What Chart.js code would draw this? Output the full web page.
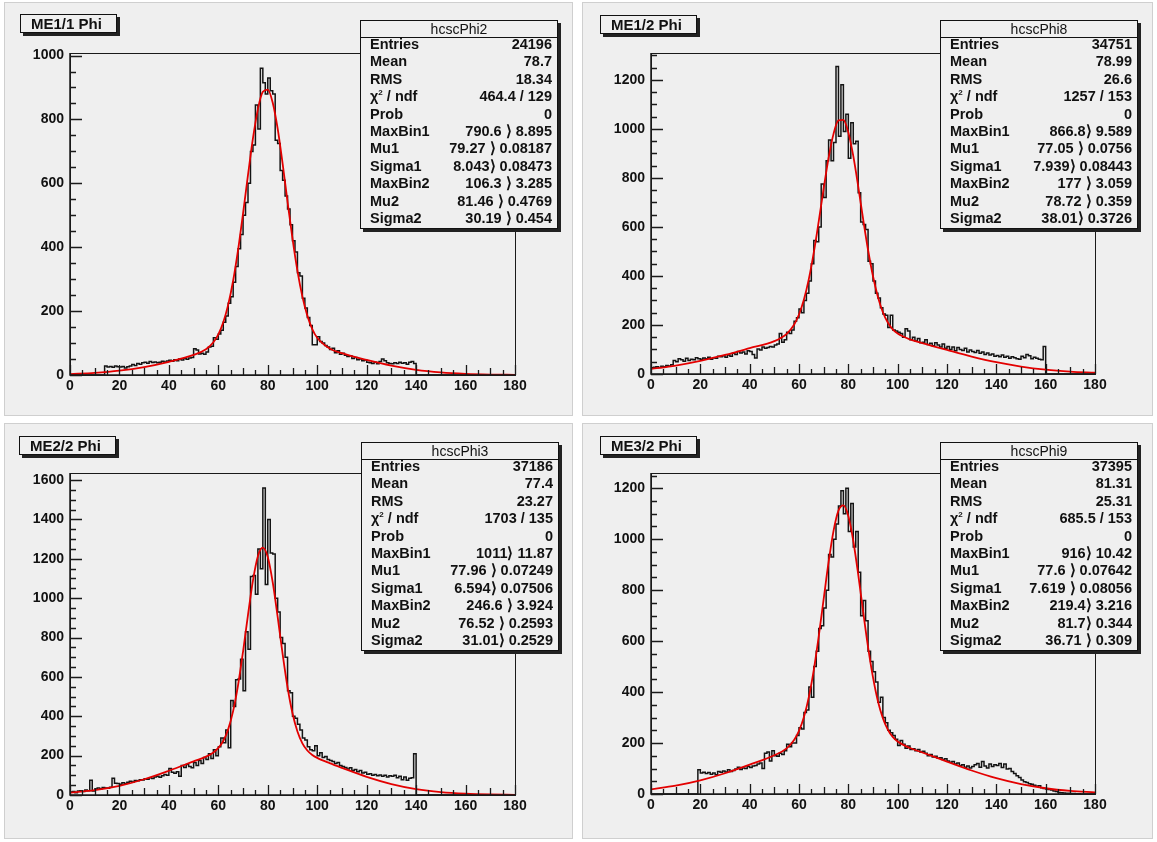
<!DOCTYPE html>
<html>
<head>
<meta charset="utf-8">
<title>CSC phi distributions</title>
<script src="https://cdn.jsdelivr.net/npm/chart.js@4.4.1/dist/chart.umd.min.js"></script>
<style>
  body { margin: 0; width: 1157px; height: 842px; background: #ffffff; position: relative; overflow: hidden;
         font-family: "Liberation Sans", Arial, sans-serif; color: #111; }
  .pad { position: absolute; background: #efefef; box-shadow: 0 0 0 1px #cfcfcf; }
  .pad canvas { position: absolute; left: 0; top: 0; }
  .title { position: absolute; width: 97px; height: 19px; box-sizing: border-box; background: #efefef;
           border: 1px solid #111; box-shadow: 3px 3px 0 #222; font-weight: bold; font-size: 15px;
           line-height: 17px; padding-left: 10px; white-space: nowrap; }
  .stats { position: absolute; width: 198px; height: 209px; box-sizing: border-box; background: #efefef;
           border: 1px solid #111; box-shadow: 3px 3px 0 #222; }
  .stats .head { height: 16px; line-height: 16px; text-align: center; font-size: 14px; border-bottom: 1px solid #111; }
  .stats .rows { margin-top: -2px; }
  .stats .row { display: flex; justify-content: space-between; height: 17.4px; line-height: 17.4px;
                font-size: 14.5px; font-weight: bold; padding: 0 5px 0 9px; white-space: nowrap; }
  .stats sup { font-size: 8px; line-height: 0; }
</style>
</head>
<body>
<script>
// bins of 1 unit from 0 to 180
const binLow = 0;
const binWidth = 1;

// ME1/1 histogram contents
const histME11 = [
  0,0,0,0,0,0,0,0,0,0,
  0,0,0,0,28,25,27,24,28,26,
  25,27,22,26,28,33,30,36,34,38,
  40,37,42,39,41,38,40,43,41,44,
  46,43,48,45,50,47,52,49,53,55,
  82,78,66,68,65,72,88,90,117,112,
  128,140,165,185,225,245,290,340,395,440,
  500,540,600,700,720,845,770,960,915,880,
  930,890,880,735,725,640,610,560,520,470,
  420,385,320,310,240,210,180,155,95,95,
  120,105,100,92,88,80,84,70,76,65,
  68,62,58,60,52,55,48,50,45,47,
  40,38,36,40,35,42,50,45,38,36,
  35,38,36,40,37,38,34,40,42,36,
  0,0,0,0,0,0,0,0,0,0,
  0,0,0,0,0,0,0,0,0,0,
  0,0,0,0,0,0,0,0,0,0,
  0,0,0,0,0,0,0,0,0,0
];

// ME1/2 histogram contents
const histME12 = [
  25,28,30,27,32,30,35,33,38,55,
  50,62,58,52,64,55,60,58,66,62,
  60,65,62,68,60,66,64,72,70,74,
  68,78,72,85,80,92,86,90,82,95,
  92,80,65,102,98,110,105,108,112,110,
  118,122,165,130,140,170,165,180,215,230,
  265,250,300,330,380,450,545,540,600,775,
  720,870,955,870,945,1255,970,1180,990,1060,
  880,1025,940,950,740,620,610,590,460,450,
  380,330,310,270,245,240,190,240,180,175,
  170,165,150,185,175,140,150,135,145,128,
  130,140,120,125,115,128,118,110,122,105,
  112,100,110,95,108,100,96,105,90,98,
  92,88,96,85,90,80,86,78,82,72,
  75,70,78,68,72,64,70,66,62,60,
  72,66,80,74,62,68,64,60,58,112,
  0,0,0,0,0,0,0,0,0,0,
  0,0,0,0,0,0,0,0,0,0
];

// ME2/2 histogram contents
const histME22 = [
  15,18,12,20,22,18,25,22,75,20,
  30,35,32,38,36,34,40,85,60,58,
  55,62,58,65,70,66,74,72,78,76,
  82,80,88,84,92,95,90,98,104,100,
  135,115,110,118,95,150,140,155,145,138,
  165,150,175,160,190,180,210,185,230,200,
  245,290,265,330,240,480,450,585,590,690,
  530,830,740,1110,1115,1020,1250,1150,1560,1070,
  1400,1230,1225,1000,930,800,770,700,530,520,
  400,390,360,330,290,280,245,230,225,250,
  200,215,190,195,180,175,170,160,165,150,
  145,140,132,138,125,130,118,125,112,115,
  105,108,100,104,98,102,95,100,92,98,
  95,100,88,95,78,92,75,85,88,210,
  0,0,0,0,0,0,0,0,0,0,
  0,0,0,0,0,0,0,0,0,0,
  0,0,0,0,0,0,0,0,0,0,
  0,0,0,0,0,0,0,0,0,0
];

// ME3/2 histogram contents
const histME32 = [
  0,0,0,0,0,0,0,0,0,0,
  0,0,0,0,0,0,0,0,0,95,
  82,85,80,84,78,82,76,88,85,90,
  86,95,88,92,98,105,96,102,100,108,
  104,110,112,118,122,100,160,165,130,170,
  150,148,160,155,170,195,185,200,200,230,
  260,255,320,330,420,380,500,560,650,660,
  730,800,940,930,1000,1060,1130,1190,1100,1200,
  1030,1140,970,1030,870,700,760,680,560,520,
  480,440,360,380,300,280,250,240,230,215,
  190,210,195,180,188,175,178,170,175,165,
  168,160,150,155,145,148,140,142,135,138,
  130,125,128,118,122,112,115,105,110,102,
  108,115,120,105,128,110,102,118,108,115,
  112,120,104,118,98,100,88,80,72,65,
  55,48,45,40,38,34,30,32,25,22,
  20,18,16,12,10,6,5,4,3,3,
  2,2,1,1,0,0,0,0,0,0
];

// fit curve sample positions and values (double gaussian)
const fitX = [0,10,20,30,40,50,55,58,60,62,64,66,68,70,72,74,76,78,80,82,84,86,88,90,92,94,96,98,100,105,110,120,130,140,150,160,170,180];
const fitME11 = [2.8,6.5,13.4,24.9,41.4,62.9,80.7,102.5,127.4,165.3,220.3,295.8,392.3,505.9,626.4,740.6,832.4,886.4,893.5,852.4,771,661.6,542,426.8,325.9,245.4,185.9,143.9,116.5,83.1,68.2,47.1,29.2,16.2,8.1,3.6,1.4,0.5];
const fitME12 = [20.7,34.5,53.7,77.8,105.4,134,164,201,243,304,388,496,623,757,882,980,1035,1037,986,890,766,632,506,399,314,252,210,182,165,141,126,98,71,48,30.5,18,10,5];
const fitME22 = [11.7,24.7,46.8,80,123.3,171.1,195,216,239,274.5,334.6,427.6,560,729,915.5,1089.5,1213.5,1257,1209,1080,904.5,717,547,415,322.4,262.5,226,203.4,188.6,161.7,137.7,92.3,55.8,30.3,14.9,6.6,2.6,0.9];
const fitME32 = [18.4,32.6,53.4,81.4,115.1,152,179,211.5,247.8,302.4,381,487.4,618.6,765.4,910.7,1033,1112.5,1132.7,1091,994,862,716,576.5,457.5,364,298,253,224,206,180.4,163,127.3,92.3,62.2,38.9,22.6,12.2,6.1];

// axis ranges and tick steps
const xRange = [0, 180];
const yMaxes = [1008, 1310, 1636, 1260];
const xLabelStep = 20;
const xMinorStep = 5;
const yLabelStep = 200;
const yMinorStep = 50;

// panel titles and stats boxes
const panelTitles = ["ME1/1 Phi", "ME1/2 Phi", "ME2/2 Phi", "ME3/2 Phi"];
const histNames = ["hcscPhi2", "hcscPhi8", "hcscPhi3", "hcscPhi9"];
const statLabels = ["Entries", "Mean", "RMS", "&chi;<sup>2</sup> / ndf", "Prob", "MaxBin1", "Mu1", "Sigma1", "MaxBin2", "Mu2", "Sigma2"];
const statsME11 = ["24196", "78.7", "18.34", "464.4 / 129", "0", "790.6 \u27e9 8.895", "79.27 \u27e9 0.08187", "8.043\u27e9 0.08473", "106.3 \u27e9 3.285", "81.46 \u27e9 0.4769", "30.19 \u27e9 0.454"];
const statsME12 = ["34751", "78.99", "26.6", "1257 / 153", "0", "866.8\u27e9 9.589", "77.05 \u27e9 0.0756", "7.939\u27e9 0.08443", "177 \u27e9 3.059", "78.72 \u27e9 0.359", "38.01\u27e9 0.3726"];
const statsME22 = ["37186", "77.4", "23.27", "1703 / 135", "0", "1011\u27e9 11.87", "77.96 \u27e9 0.07249", "6.594\u27e9 0.07506", "246.6 \u27e9 3.924", "76.52 \u27e9 0.2593", "31.01\u27e9 0.2529"];
const statsME32 = ["37395", "81.31", "25.31", "685.5 / 153", "0", "916\u27e9 10.42", "77.6 \u27e9 0.07642", "7.619 \u27e9 0.08056", "219.4\u27e9 3.216", "81.7\u27e9 0.344", "36.71 \u27e9 0.309"];

const histList = [histME11, histME12, histME22, histME32];
const fitList = [fitME11, fitME12, fitME22, fitME32];
const statsList = [statsME11, statsME12, statsME22, statsME32];

// page layout of the four pads (page coordinates)
const pads = [
  {left: 5,   top: 3,   w: 567, h: 412, plot: {l: 70,  t: 53,  r: 515,  b: 375}, title: [20, 14],  stats: [360, 20]},
  {left: 583, top: 3,   w: 569, h: 412, plot: {l: 651, t: 53,  r: 1095, b: 374}, title: [600, 15], stats: [940, 20]},
  {left: 5,   top: 424, w: 567, h: 414, plot: {l: 70,  t: 473, r: 515,  b: 795}, title: [19, 436], stats: [361, 442]},
  {left: 583, top: 424, w: 569, h: 414, plot: {l: 651, t: 473, r: 1095, b: 794}, title: [600, 436], stats: [940, 442]}
];

const labelFont = {family: "'Liberation Sans', Arial, sans-serif", size: 14, weight: 'bold'};

// draws the ROOT style frame with ticks pointing inwards
const rootFrame = {
  id: 'rootFrame',
  afterDraw(chart) {
    const {ctx, chartArea: a, scales} = chart;
    const x = scales.x, y = scales.y;
    ctx.save();
    ctx.strokeStyle = '#1a1a1a';
    ctx.lineWidth = 1;
    ctx.strokeRect(Math.round(a.left) + 0.5, Math.round(a.top) + 0.5, Math.round(a.right - a.left), Math.round(a.bottom - a.top));

    ctx.lineWidth = 1.5;
    ctx.beginPath();
    ctx.moveTo(a.left, a.top);
    ctx.lineTo(a.left, a.bottom);
    ctx.lineTo(a.right, a.bottom);
    ctx.stroke();

    ctx.lineWidth = 1.3;
    ctx.beginPath();
    x.ticks.forEach(t => {
      if (t.value % xMinorStep !== 0) return;
      const px = Math.round(x.getPixelForValue(t.value)) + 0.5;
      let len = 5;
      if (t.value % xLabelStep === 0) len = 10;
      else if (t.value % 10 === 0) len = 7;
      ctx.moveTo(px, a.bottom);
      ctx.lineTo(px, a.bottom - len);
    });
    y.ticks.forEach(t => {
      if (t.value % yMinorStep !== 0) return;
      const py = Math.round(y.getPixelForValue(t.value)) + 0.5;
      const len = t.value % yLabelStep === 0 ? 12 : 6;
      ctx.moveTo(a.left, py);
      ctx.lineTo(a.left + len, py);
    });
    ctx.stroke();
    ctx.restore();
  }
};

// histogram as step line: each bin value holds from its low edge to the next one
function histPoints(counts) {
  const pts = counts.map((c, i) => ({x: binLow + i * binWidth, y: c}));
  pts.push({x: binLow + counts.length * binWidth, y: counts[counts.length - 1]});
  return pts;
}

function fitPoints(vals) {
  return fitX.map((x, i) => ({x: x, y: vals[i]}));
}

function makeChart(i) {
  const p = pads[i];
  const pad = document.createElement('div');
  pad.className = 'pad';
  pad.style.left = p.left + 'px';
  pad.style.top = p.top + 'px';
  pad.style.width = p.w + 'px';
  pad.style.height = p.h + 'px';
  const canvas = document.createElement('canvas');
  canvas.width = p.w;
  canvas.height = p.h;
  pad.appendChild(canvas);
  document.body.appendChild(pad);

  // plot box relative to the pad
  const plotLeft = p.plot.l - p.left;
  const plotTop = p.plot.t - p.top;
  const plotRight = p.plot.r - p.left;
  const plotBottom = p.plot.b - p.top;

  new Chart(canvas.getContext('2d'), {
    type: 'line',
    data: {
      datasets: [
        {
          data: fitPoints(fitList[i]),
          borderColor: '#e30000',
          borderWidth: 1.8,
          pointRadius: 0,
          cubicInterpolationMode: 'monotone',
          fill: false
        },
        {
          data: histPoints(histList[i]),
          borderColor: '#141414',
          borderWidth: 1.5,
          pointRadius: 0,
          stepped: 'before',
          fill: false
        }
      ]
    },
    options: {
      responsive: false,
      animation: false,
      devicePixelRatio: 1,
      layout: {padding: {left: 0, top: plotTop, right: p.w - plotRight, bottom: 0}},
      plugins: {legend: {display: false}, tooltip: {enabled: false}},
      scales: {
        x: {
          type: 'linear',
          min: xRange[0],
          max: xRange[1],
          grid: {display: false, drawTicks: false},
          border: {display: false},
          ticks: {
            stepSize: xMinorStep,
            includeBounds: false,
            autoSkip: false,
            maxRotation: 0,
            padding: 3,
            color: '#111',
            font: labelFont,
            callback: v => (v % xLabelStep === 0 ? String(v) : '')
          },
          afterFit: s => { s.height = p.h - plotBottom; }
        },
        y: {
          type: 'linear',
          min: 0,
          max: yMaxes[i],
          grid: {display: false, drawTicks: false},
          border: {display: false},
          ticks: {
            stepSize: yMinorStep,
            includeBounds: false,
            autoSkip: false,
            padding: 6,
            color: '#111',
            font: labelFont,
            callback: v => (v % yLabelStep === 0 ? String(v) : '')
          },
          afterFit: s => { s.width = plotLeft; }
        }
      }
    },
    plugins: [rootFrame]
  });

  // title box
  const title = document.createElement('div');
  title.className = 'title';
  title.style.left = p.title[0] + 'px';
  title.style.top = p.title[1] + 'px';
  title.textContent = panelTitles[i];
  document.body.appendChild(title);

  // stats box
  const stats = document.createElement('div');
  stats.className = 'stats';
  stats.style.left = p.stats[0] + 'px';
  stats.style.top = p.stats[1] + 'px';
  let html = '<div class="head">' + histNames[i] + '</div><div class="rows">';
  statLabels.forEach((lab, k) => {
    html += '<div class="row"><span>' + lab + '</span><span>' + statsList[i][k] + '</span></div>';
  });
  html += '</div>';
  stats.innerHTML = html;
  document.body.appendChild(stats);
}

for (let i = 0; i < pads.length; i++) {
  makeChart(i);
}
</script>
</body>
</html>
